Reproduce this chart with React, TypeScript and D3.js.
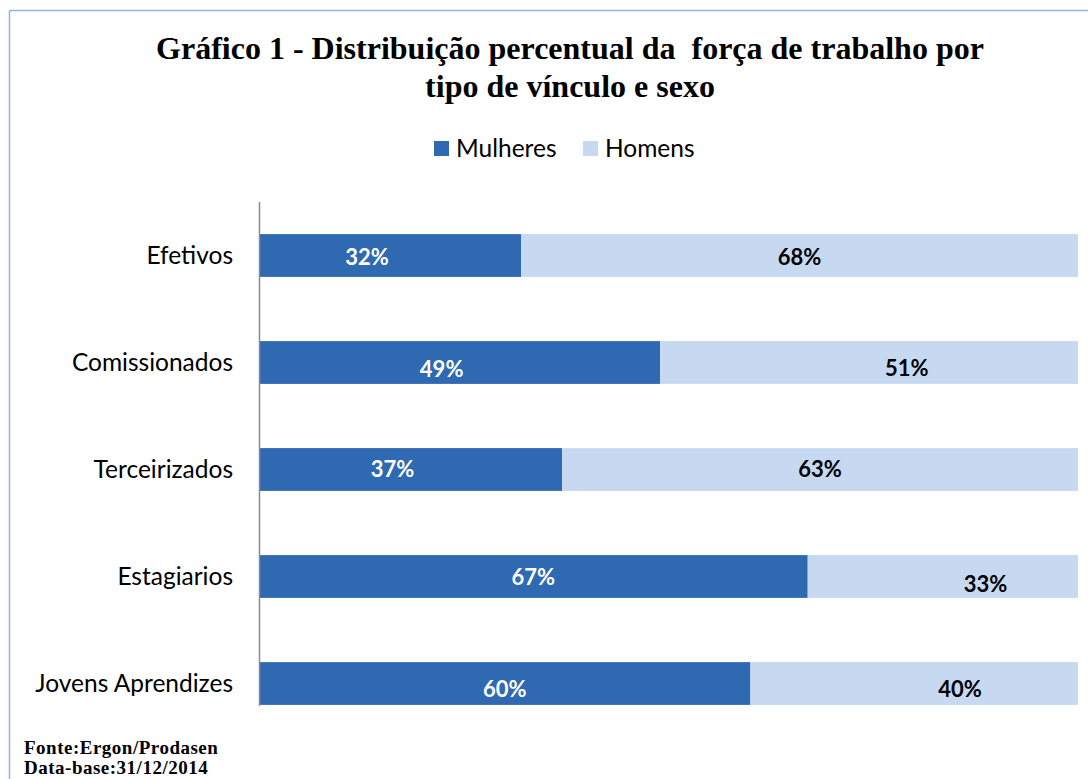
import React from "react";
import * as d3 from "d3";

const categories = ["Efetivos", "Comissionados", "Terceirizados", "Estagiarios", "Jovens Aprendizes"];
const mulheres = [32, 49, 37, 67, 60];
const homens = [68, 51, 63, 33, 40];
// small label nudges (in percentage points / px) as seen in the original
const mulheresLabelShift = [-2.8, -2.2, -2.2, 0, 0];
const homensLabelShift = [0, 4.6, 0, 5.2, 5.6];
const labelDy = [2, 7, 0, 1, 6];
const homensDy = [2, 6, 0, 8, 6];

const W = 1088;
const H = 779;
const DARK = "#2e69b1";
const LIGHT = "#c6d9f0";
const SANS = "Lato, 'Open Sans', sans-serif";
const SERIF = "'Liberation Serif', 'Times New Roman', serif";

export default function App() {
  const x = d3.scaleLinear().domain([0, 100]).range([259, 1078]);
  const y = d3.scaleBand().domain(categories).range([202, 737]).paddingInner(0.6).paddingOuter(0.3);
  const bh = y.bandwidth();
  return (
    <svg width={W} height={H} style={{ position: "absolute", left: 0, top: 0 }}>
      <rect x={0} y={0} width={W} height={H} fill="#fff" />
      <line x1={9.5} y1={10.5} x2={W} y2={10.5} stroke="#8eb4e3" strokeWidth={1.5} />
      <line x1={9.5} y1={10.5} x2={9.5} y2={H} stroke="#8eb4e3" strokeWidth={1.5} />
      <text x={570} y={59} textAnchor="middle" fontFamily={SERIF} fontWeight="bold" fontSize={32} fill="#000" style={{ whiteSpace: "pre" }}>
        {"Gráfico 1 - Distribuição percentual da  força de trabalho por"}
      </text>
      <text x={570} y={97} textAnchor="middle" fontFamily={SERIF} fontWeight="bold" fontSize={32} fill="#000">
        tipo de vínculo e sexo
      </text>
      <rect x={434} y={141} width={15} height={15} fill={DARK} />
      <text x={456} y={157} fontFamily={SANS} fontSize={24.5} fill="#000">Mulheres</text>
      <rect x={583} y={141} width={15} height={15} fill={LIGHT} />
      <text x={605} y={157} fontFamily={SANS} fontSize={24.5} fill="#000">Homens</text>
      {categories.map((c, i) => {
        const y0 = y(c)!;
        const cy = y0 + bh / 2;
        return (
          <g key={c}>
            <text x={233} y={cy} dy="0.35em" textAnchor="end" fontFamily={SANS} fontSize={24.5} fill="#000">{c}</text>
            <rect x={x(0)} y={y0} width={x(mulheres[i]) - x(0)} height={bh} fill={DARK} />
            <rect x={x(mulheres[i])} y={y0} width={x(mulheres[i] + homens[i]) - x(mulheres[i])} height={bh} fill={LIGHT} />
            <text x={x(mulheres[i] / 2 + mulheresLabelShift[i])} y={cy + labelDy[i]} dy="0.35em" textAnchor="middle" fontFamily={SANS} fontWeight="bold" fontSize={22} fill="#fff">
              {mulheres[i]}%
            </text>
            <text x={x(mulheres[i] + homens[i] / 2 + homensLabelShift[i])} y={cy + homensDy[i]} dy="0.35em" textAnchor="middle" fontFamily={SANS} fontWeight="bold" fontSize={22} fill="#000">
              {homens[i]}%
            </text>
          </g>
        );
      })}
      <line x1={259.5} y1={202} x2={259.5} y2={706} stroke="#8c8c8c" strokeWidth={1.5} />
      <text x={24} y={754} fontFamily={SERIF} fontWeight="bold" fontSize={19} letterSpacing={0.5} fill="#000">Fonte:Ergon/Prodasen</text>
      <text x={24} y={774} fontFamily={SERIF} fontWeight="bold" fontSize={19} letterSpacing={0.5} fill="#000">Data-base:31/12/2014</text>
    </svg>
  );
}
